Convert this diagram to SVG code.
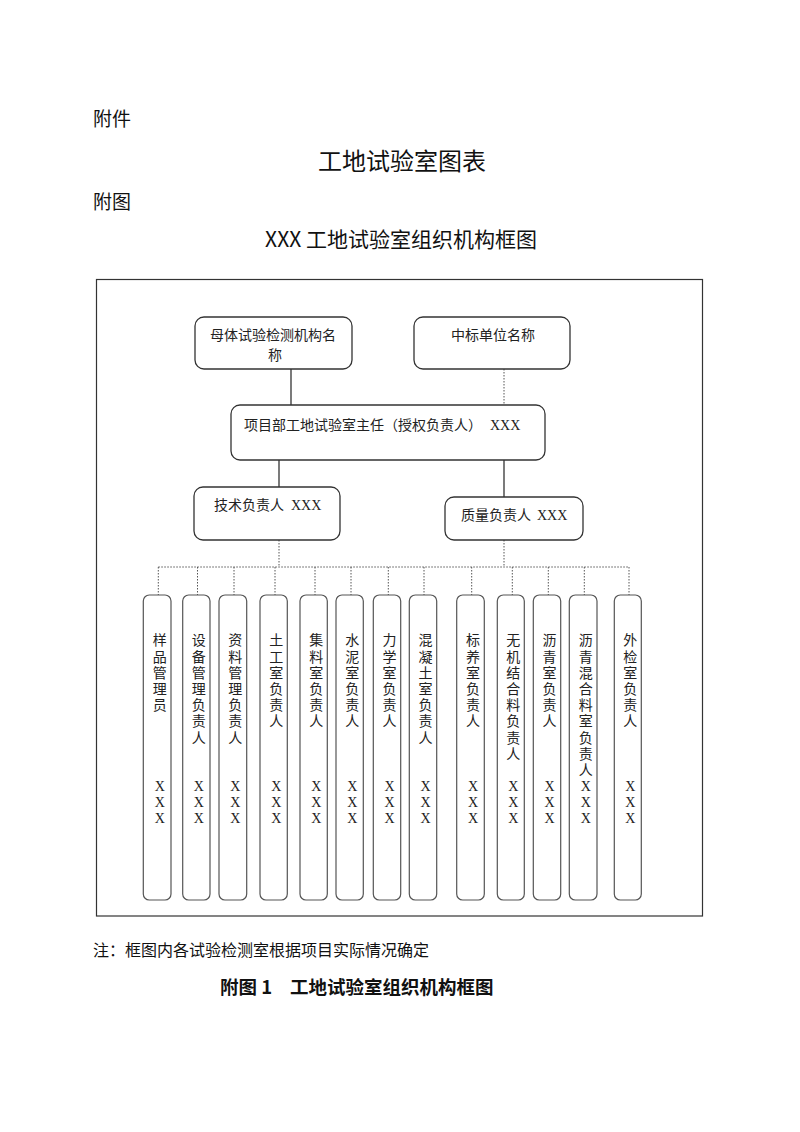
<svg xmlns="http://www.w3.org/2000/svg" width="800" height="1132" viewBox="0 0 800 1132">
<style>
.h{font-family:"Noto Sans CJK SC","Liberation Sans",sans-serif;fill:#111}
.t{font-family:"Liberation Serif","Noto Sans CJK SC",serif;font-size:14px;fill:#222}
.v{font-family:"Liberation Serif","Noto Sans CJK SC",serif;font-size:14px;fill:#222;text-anchor:middle}
.box{fill:#fff;stroke:#333;stroke-width:1.3}
.tall{fill:#fff;stroke:#555;stroke-width:1.2}
.solid{stroke:#222;stroke-width:1.2;fill:none}
.dot{stroke:#555;stroke-width:1;stroke-dasharray:1.5 1.5;fill:none}
</style>
<rect width="800" height="1132" fill="#fff"/>
<text class="h" x="93" y="126.4" font-size="19">附件</text>
<text class="h" x="402" y="170" font-size="24" text-anchor="middle">工地试验室图表</text>
<text class="h" x="93" y="208.9" font-size="19">附图</text>
<text class="h" x="401" y="246.5" font-size="21" text-anchor="middle">XXX 工地试验室组织机构框图</text>
<rect x="96.5" y="279.5" width="606" height="636.5" fill="none" stroke="#333" stroke-width="1.2"/>
<g id="connectors">
<line class="solid" x1="291" y1="369" x2="291" y2="405"/>
<line class="dot" x1="504" y1="369" x2="504" y2="405"/>
<line class="solid" x1="279" y1="460" x2="279" y2="487"/>
<line class="solid" x1="504" y1="460" x2="504" y2="497"/>
<line class="dot" x1="279" y1="540" x2="279" y2="567"/>
<line class="dot" x1="504" y1="540" x2="504" y2="567"/>
<line class="dot" x1="158.3" y1="567" x2="629" y2="567"/>
<line class="dot" x1="158.3" y1="567" x2="158.3" y2="595"/>
<line class="dot" x1="197.5" y1="567" x2="197.5" y2="595"/>
<line class="dot" x1="234" y1="567" x2="234" y2="595"/>
<line class="dot" x1="275" y1="567" x2="275" y2="595"/>
<line class="dot" x1="315" y1="567" x2="315" y2="595"/>
<line class="dot" x1="351" y1="567" x2="351" y2="595"/>
<line class="dot" x1="388.3" y1="567" x2="388.3" y2="595"/>
<line class="dot" x1="424" y1="567" x2="424" y2="595"/>
<line class="dot" x1="471.7" y1="567" x2="471.7" y2="595"/>
<line class="dot" x1="512.3" y1="567" x2="512.3" y2="595"/>
<line class="dot" x1="548.3" y1="567" x2="548.3" y2="595"/>
<line class="dot" x1="584.3" y1="567" x2="584.3" y2="595"/>
<line class="dot" x1="629" y1="567" x2="629" y2="595"/>
</g>
<g id="parent">
<rect class="box" x="195" y="317" width="157" height="52" rx="9"/>
<text class="t" x="210" y="340.3">母体试验检测机构名</text>
<text class="t" x="275" y="360.3" text-anchor="middle">称</text>
</g>
<g id="bidder">
<rect class="box" x="414" y="317" width="156" height="52" rx="9"/>
<text class="t" x="493" y="340.3" text-anchor="middle">中标单位名称</text>
</g>
<g id="director">
<rect class="box" x="231" y="405" width="314" height="55" rx="9"/>
<text class="t" x="244" y="430.3">项目部工地试验室主任（授权负责人）<tspan x="490">XXX</tspan></text>
</g>
<g id="tech">
<rect class="box" x="194" y="487" width="146" height="53" rx="9"/>
<text class="t" x="214" y="510.3">技术负责人<tspan x="291">XXX</tspan></text>
</g>
<g id="quality">
<rect class="box" x="445" y="497" width="138" height="43" rx="9"/>
<text class="t" x="461" y="520.3">质量负责人<tspan x="537">XXX</tspan></text>
</g>
<g id="n1"><rect class="tall" x="143.3" y="595" width="27.7" height="305" rx="6"/>
<text class="v" y="645.3"><tspan x="159.7">样</tspan><tspan x="159.7" dy="16.2">品</tspan><tspan x="159.7" dy="16.2">管</tspan><tspan x="159.7" dy="16.2">理</tspan><tspan x="159.7" dy="16.2">员</tspan></text>
<text class="v" y="791.3"><tspan x="159.7">X</tspan><tspan x="159.7" dy="15.6">X</tspan><tspan x="159.7" dy="15.6">X</tspan></text></g>
<g id="n2"><rect class="tall" x="182.7" y="595" width="27.3" height="305" rx="6"/>
<text class="v" y="645.3"><tspan x="198.8">设</tspan><tspan x="198.8" dy="16.2">备</tspan><tspan x="198.8" dy="16.2">管</tspan><tspan x="198.8" dy="16.2">理</tspan><tspan x="198.8" dy="16.2">负</tspan><tspan x="198.8" dy="16.2">责</tspan><tspan x="198.8" dy="16.2">人</tspan></text>
<text class="v" y="791.3"><tspan x="198.8">X</tspan><tspan x="198.8" dy="15.6">X</tspan><tspan x="198.8" dy="15.6">X</tspan></text></g>
<g id="n3"><rect class="tall" x="219" y="595" width="27.7" height="305" rx="6"/>
<text class="v" y="645.3"><tspan x="235.3">资</tspan><tspan x="235.3" dy="16.2">料</tspan><tspan x="235.3" dy="16.2">管</tspan><tspan x="235.3" dy="16.2">理</tspan><tspan x="235.3" dy="16.2">负</tspan><tspan x="235.3" dy="16.2">责</tspan><tspan x="235.3" dy="16.2">人</tspan></text>
<text class="v" y="791.3"><tspan x="235.3">X</tspan><tspan x="235.3" dy="15.6">X</tspan><tspan x="235.3" dy="15.6">X</tspan></text></g>
<g id="n4"><rect class="tall" x="260" y="595" width="27.3" height="305" rx="6"/>
<text class="v" y="645.3"><tspan x="276.2">土</tspan><tspan x="276.2" dy="16.2">工</tspan><tspan x="276.2" dy="16.2">室</tspan><tspan x="276.2" dy="16.2">负</tspan><tspan x="276.2" dy="16.2">责</tspan><tspan x="276.2" dy="16.2">人</tspan></text>
<text class="v" y="791.3"><tspan x="276.2">X</tspan><tspan x="276.2" dy="15.6">X</tspan><tspan x="276.2" dy="15.6">X</tspan></text></g>
<g id="n5"><rect class="tall" x="300" y="595" width="27.3" height="305" rx="6"/>
<text class="v" y="645.3"><tspan x="316.2">集</tspan><tspan x="316.2" dy="16.2">料</tspan><tspan x="316.2" dy="16.2">室</tspan><tspan x="316.2" dy="16.2">负</tspan><tspan x="316.2" dy="16.2">责</tspan><tspan x="316.2" dy="16.2">人</tspan></text>
<text class="v" y="791.3"><tspan x="316.2">X</tspan><tspan x="316.2" dy="15.6">X</tspan><tspan x="316.2" dy="15.6">X</tspan></text></g>
<g id="n6"><rect class="tall" x="336" y="595" width="27.3" height="305" rx="6"/>
<text class="v" y="645.3"><tspan x="352.2">水</tspan><tspan x="352.2" dy="16.2">泥</tspan><tspan x="352.2" dy="16.2">室</tspan><tspan x="352.2" dy="16.2">负</tspan><tspan x="352.2" dy="16.2">责</tspan><tspan x="352.2" dy="16.2">人</tspan></text>
<text class="v" y="791.3"><tspan x="352.2">X</tspan><tspan x="352.2" dy="15.6">X</tspan><tspan x="352.2" dy="15.6">X</tspan></text></g>
<g id="n7"><rect class="tall" x="373.3" y="595" width="27.4" height="305" rx="6"/>
<text class="v" y="645.3"><tspan x="389.5">力</tspan><tspan x="389.5" dy="16.2">学</tspan><tspan x="389.5" dy="16.2">室</tspan><tspan x="389.5" dy="16.2">负</tspan><tspan x="389.5" dy="16.2">责</tspan><tspan x="389.5" dy="16.2">人</tspan></text>
<text class="v" y="791.3"><tspan x="389.5">X</tspan><tspan x="389.5" dy="15.6">X</tspan><tspan x="389.5" dy="15.6">X</tspan></text></g>
<g id="n8"><rect class="tall" x="409.3" y="595" width="27.4" height="305" rx="6"/>
<text class="v" y="645.3"><tspan x="425.5">混</tspan><tspan x="425.5" dy="16.2">凝</tspan><tspan x="425.5" dy="16.2">土</tspan><tspan x="425.5" dy="16.2">室</tspan><tspan x="425.5" dy="16.2">负</tspan><tspan x="425.5" dy="16.2">责</tspan><tspan x="425.5" dy="16.2">人</tspan></text>
<text class="v" y="791.3"><tspan x="425.5">X</tspan><tspan x="425.5" dy="15.6">X</tspan><tspan x="425.5" dy="15.6">X</tspan></text></g>
<g id="n9"><rect class="tall" x="456.7" y="595" width="27.6" height="305" rx="6"/>
<text class="v" y="645.3"><tspan x="473">标</tspan><tspan x="473" dy="16.2">养</tspan><tspan x="473" dy="16.2">室</tspan><tspan x="473" dy="16.2">负</tspan><tspan x="473" dy="16.2">责</tspan><tspan x="473" dy="16.2">人</tspan></text>
<text class="v" y="791.3"><tspan x="473">X</tspan><tspan x="473" dy="15.6">X</tspan><tspan x="473" dy="15.6">X</tspan></text></g>
<g id="n10"><rect class="tall" x="497.3" y="595" width="27" height="305" rx="6"/>
<text class="v" y="645.3"><tspan x="513.3">无</tspan><tspan x="513.3" dy="16.2">机</tspan><tspan x="513.3" dy="16.2">结</tspan><tspan x="513.3" dy="16.2">合</tspan><tspan x="513.3" dy="16.2">料</tspan><tspan x="513.3" dy="16.2">负</tspan><tspan x="513.3" dy="16.2">责</tspan><tspan x="513.3" dy="16.2">人</tspan></text>
<text class="v" y="791.3"><tspan x="513.3">X</tspan><tspan x="513.3" dy="15.6">X</tspan><tspan x="513.3" dy="15.6">X</tspan></text></g>
<g id="n11"><rect class="tall" x="533.3" y="595" width="27.4" height="305" rx="6"/>
<text class="v" y="645.3"><tspan x="549.5">沥</tspan><tspan x="549.5" dy="16.2">青</tspan><tspan x="549.5" dy="16.2">室</tspan><tspan x="549.5" dy="16.2">负</tspan><tspan x="549.5" dy="16.2">责</tspan><tspan x="549.5" dy="16.2">人</tspan></text>
<text class="v" y="791.3"><tspan x="549.5">X</tspan><tspan x="549.5" dy="15.6">X</tspan><tspan x="549.5" dy="15.6">X</tspan></text></g>
<g id="n12"><rect class="tall" x="569.3" y="595" width="27.7" height="305" rx="6"/>
<text class="v" y="645.3"><tspan x="585.7">沥</tspan><tspan x="585.7" dy="16.2">青</tspan><tspan x="585.7" dy="16.2">混</tspan><tspan x="585.7" dy="16.2">合</tspan><tspan x="585.7" dy="16.2">料</tspan><tspan x="585.7" dy="16.2">室</tspan><tspan x="585.7" dy="16.2">负</tspan><tspan x="585.7" dy="16.2">责</tspan><tspan x="585.7" dy="16.2">人</tspan></text>
<text class="v" y="791.3"><tspan x="585.7">X</tspan><tspan x="585.7" dy="15.6">X</tspan><tspan x="585.7" dy="15.6">X</tspan></text></g>
<g id="n13"><rect class="tall" x="614.3" y="595" width="27" height="305" rx="6"/>
<text class="v" y="645.3"><tspan x="630.3">外</tspan><tspan x="630.3" dy="16.2">检</tspan><tspan x="630.3" dy="16.2">室</tspan><tspan x="630.3" dy="16.2">负</tspan><tspan x="630.3" dy="16.2">责</tspan><tspan x="630.3" dy="16.2">人</tspan></text>
<text class="v" y="791.3"><tspan x="630.3">X</tspan><tspan x="630.3" dy="15.6">X</tspan><tspan x="630.3" dy="15.6">X</tspan></text></g>
<text class="h" x="93" y="955.6" font-size="16">注：框图内各试验检测室根据项目实际情况确定</text>
<text class="h" x="220" y="993.5" font-size="18.5" font-weight="bold">附图 1</text>
<text class="h" x="290" y="993.5" font-size="18.5" font-weight="bold">工地试验室组织机构框图</text>
</svg>
